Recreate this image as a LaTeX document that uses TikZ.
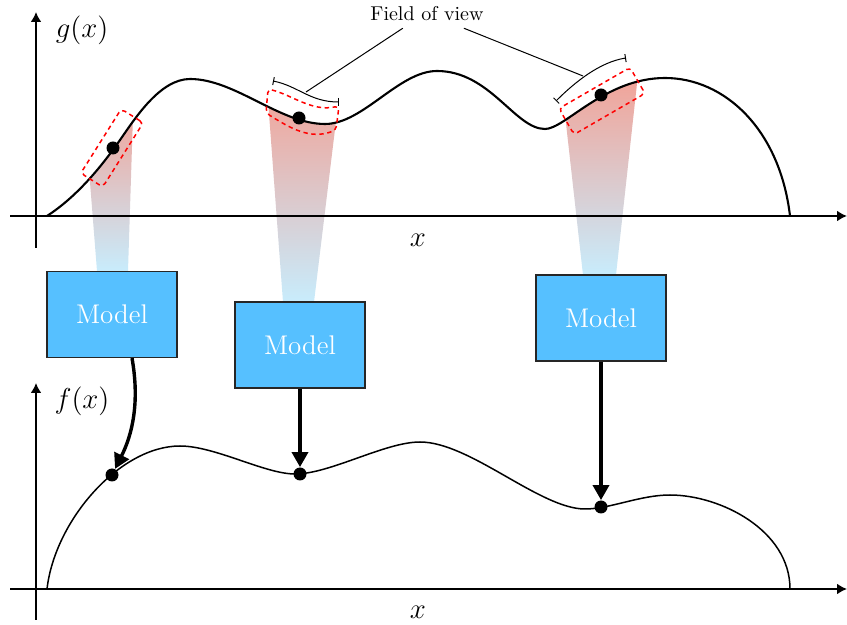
\documentclass[tikz,border=0pt]{standalone}
\usetikzlibrary{arrows.meta,calc}
\definecolor{modelblue}{RGB}{86,192,255}
\definecolor{beamred}{RGB}{243,160,148}
\definecolor{beamblue}{RGB}{200,236,252}
\newcommand\gcurve{(47,216) .. controls (76.3,196.9) and (99.9,168.7) .. (120,140)
 .. controls (135,118.5) and (160,79) .. (190,79)
 .. controls (235,79) and (280,124) .. (325,124)
 .. controls (363,124) and (399,71) .. (437,71)
 .. controls (490,71) and (515,129) .. (545,129)
 .. controls (565,129) and (605,78) .. (665,78)
 .. controls (725,78) and (780,130) .. (790,216)}
\newcommand\fcurve{(47,589) .. controls (55,520) and (120,446) .. (180,446)
 .. controls (215,446) and (265,474) .. (295,474)
 .. controls (330,474) and (385,442) .. (420,442)
 .. controls (470,442) and (540,509) .. (585,509)
 .. controls (610,509) and (640,495) .. (670,495)
 .. controls (720,495) and (790,530) .. (790,589)}
\begin{document}
\begin{tikzpicture}[x=0.5pt,y=-0.5pt,
  axis/.style={line width=1.1pt,-{Latex[length=5pt,width=5.5pt]}},
  modelbox/.style={draw=black!85,line width=0.6pt,fill=modelblue,text=white,
    minimum width=65pt,minimum height=43pt,inner sep=0pt,font=\fontsize{13.5}{16}\selectfont},
  dotnode/.style={circle,fill=black,inner sep=0pt,minimum size=6.5pt},
  flow/.style={line width=1.7pt,-{Triangle[length=7.5pt,width=8pt]}},
  fovbox/.style={red,dash pattern=on 2.2pt off 1.8pt,line width=0.75pt},
  bracket/.style={line width=0.5pt,{Bar[width=4pt]}-{Bar[width=4pt]}},
  beam/.style={top color=beamred,bottom color=beamblue,draw=none},
  lbl/.style={font=\fontsize{14.4}{17}\selectfont}]
\useasboundingbox (0,0) rectangle (847,625);

% beams under the curve
\begin{scope}
  \clip \gcurve -- (790,400) -- (47,400) -- cycle;
  \path[beam] (83.5,100) -- (133.5,100) -- (128,271) -- (97,271) -- cycle;
  \path[beam] (266.5,80) -- (341,80) -- (314,302) -- (283,302) -- cycle;
  \path[beam] (560,70) -- (638.5,70) -- (616,275) -- (583,275) -- cycle;
\end{scope}

% axes
\draw[axis] (36,248) -- (36,12);
\draw[axis] (10,216) -- (847,216);
\draw[axis] (36,620) -- (36,383);
\draw[axis] (10,589) -- (847,589);
\node[lbl] (glab) at (82,30) {$g(x)$};
\node[lbl] (xlab1) at (418,240) {$x$};
\node[lbl] (flab) at (82,401) {$f(x)$};
\node[lbl] (xlab2) at (418,612) {$x$};

% curves
\draw[line width=1.05pt] \gcurve;
\draw[line width=0.75pt] \fcurve;

% dashed field-of-view boxes
\draw[fovbox,rounded corners=2pt] (143.2,122.8) -- (121.2,109.0) -- (80.8,173.2) -- (102.8,187) -- cycle;
\draw[fovbox,rounded corners=2pt] (268,89) .. controls (292,95) and (312,112) .. (339,106) -- (336,130) .. controls (310,140) and (290,128) .. (266,113) -- cycle;
\draw[fovbox,rounded corners=2pt] (645,93.5) -- (630,67.5) -- (559,108.5) -- (574,134.5) -- cycle;

% dots on g
\node[dotnode] (gd1) at (113,148) {};
\node[dotnode] (gd2) at (299,118) {};
\node[dotnode] (gd3) at (601,95) {};

% field of view
\node[font=\fontsize{10}{12}\selectfont] (fov) at (427,14) {Field of view};
\coordinate (br2) at (306,92);
\coordinate (br3) at (583,76);
\draw[bracket] (273,81) .. controls (298,86) and (310,102) .. (339,102);
\draw[bracket] (556,101) .. controls (575,82) and (600,62) .. (626,58);
\draw[line width=0.5pt] ($(fov.south west)!0.31!(fov.south east)$) -- (br2);
\draw[line width=0.5pt] ($(fov.south west)!0.79!(fov.south east)$) -- (br3);

% models
\node[modelbox] (b1) at (112,314.5) {Model};
\node[modelbox] (b2) at (300,345) {Model};
\node[modelbox] (b3) at (601,318) {Model};

% dots on f
\node[dotnode] (fd1) at (112,475) {};
\node[dotnode] (fd2) at (300,474) {};
\node[dotnode] (fd3) at (601,507) {};

% arrows
\draw[flow] ([xshift=10pt]b1.south) .. controls +(8,45) and +(20,-40) .. (fd1);
\draw[flow] (b2) -- (fd2);
\draw[flow] (b3) -- (fd3);
\end{tikzpicture}
\end{document}
